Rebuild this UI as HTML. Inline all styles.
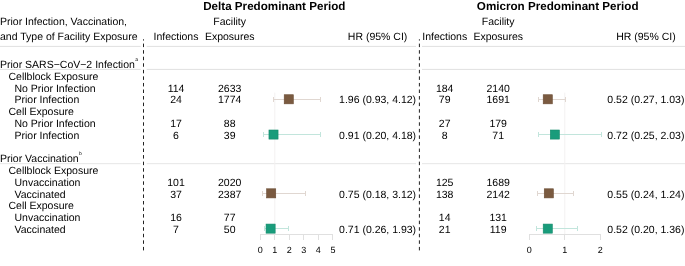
<!DOCTYPE html>
<html><head><meta charset="utf-8"><style>
html,body{margin:0;padding:0;background:#fff;}
svg{display:block;will-change:transform;text-rendering:geometricPrecision;font-family:"Liberation Sans",sans-serif;}
</style></head><body>
<svg width="685" height="266" viewBox="0 0 685 266">
<text x="274.30" y="9.70" text-anchor="middle" font-size="11.65" font-weight="bold" fill="#000">Delta Predominant Period</text>
<text x="557.70" y="9.70" text-anchor="middle" font-size="11.65" font-weight="bold" fill="#000">Omicron Predominant Period</text>
<text x="0.00" y="25.00" text-anchor="start" font-size="10.5" font-weight="normal" fill="#000">Prior Infection, Vaccination,</text>
<text x="0.00" y="40.20" text-anchor="start" font-size="10.5" font-weight="normal" fill="#000">and Type of Facility Exposure</text>
<text x="176.00" y="40.20" text-anchor="middle" font-size="10.5" font-weight="normal" fill="#000">Infections</text>
<text x="229.70" y="25.00" text-anchor="middle" font-size="10.5" font-weight="normal" fill="#000">Facility</text>
<text x="229.70" y="40.20" text-anchor="middle" font-size="10.5" font-weight="normal" fill="#000">Exposures</text>
<text x="377.60" y="40.20" text-anchor="middle" font-size="10.5" font-weight="normal" fill="#000">HR (95% CI)</text>
<text x="444.70" y="40.20" text-anchor="middle" font-size="10.5" font-weight="normal" fill="#000">Infections</text>
<text x="498.20" y="25.00" text-anchor="middle" font-size="10.5" font-weight="normal" fill="#000">Facility</text>
<text x="498.20" y="40.20" text-anchor="middle" font-size="10.5" font-weight="normal" fill="#000">Exposures</text>
<text x="645.90" y="40.20" text-anchor="middle" font-size="10.5" font-weight="normal" fill="#000">HR (95% CI)</text>
<text x="0" y="68.20" font-size="10.5">Prior SARS−CoV−2 Infection<tspan dx="0.5" dy="-7.6" font-size="5">a</tspan></text>
<text x="8.50" y="79.96" text-anchor="start" font-size="10.5" font-weight="normal" fill="#000">Cellblock Exposure</text>
<text x="14.50" y="91.72" text-anchor="start" font-size="10.5" font-weight="normal" fill="#000">No Prior Infection</text>
<text x="14.50" y="103.48" text-anchor="start" font-size="10.5" font-weight="normal" fill="#000">Prior Infection</text>
<text x="8.50" y="115.23" text-anchor="start" font-size="10.5" font-weight="normal" fill="#000">Cell Exposure</text>
<text x="14.50" y="126.99" text-anchor="start" font-size="10.5" font-weight="normal" fill="#000">No Prior Infection</text>
<text x="14.50" y="138.75" text-anchor="start" font-size="10.5" font-weight="normal" fill="#000">Prior Infection</text>
<text x="0" y="162.27" font-size="10.5">Prior Vaccination<tspan dx="0.5" dy="-7.6" font-size="5">b</tspan></text>
<text x="8.50" y="174.03" text-anchor="start" font-size="10.5" font-weight="normal" fill="#000">Cellblock Exposure</text>
<text x="14.50" y="185.79" text-anchor="start" font-size="10.5" font-weight="normal" fill="#000">Unvaccination</text>
<text x="14.50" y="197.54" text-anchor="start" font-size="10.5" font-weight="normal" fill="#000">Vaccinated</text>
<text x="8.50" y="209.30" text-anchor="start" font-size="10.5" font-weight="normal" fill="#000">Cell Exposure</text>
<text x="14.50" y="221.06" text-anchor="start" font-size="10.5" font-weight="normal" fill="#000">Unvaccination</text>
<text x="14.50" y="232.82" text-anchor="start" font-size="10.5" font-weight="normal" fill="#000">Vaccinated</text>
<text x="176.00" y="91.72" text-anchor="middle" font-size="10.5" font-weight="normal" fill="#000">114</text>
<text x="229.70" y="91.72" text-anchor="middle" font-size="10.5" font-weight="normal" fill="#000">2633</text>
<text x="444.70" y="91.72" text-anchor="middle" font-size="10.5" font-weight="normal" fill="#000">184</text>
<text x="498.20" y="91.72" text-anchor="middle" font-size="10.5" font-weight="normal" fill="#000">2140</text>
<text x="176.00" y="103.48" text-anchor="middle" font-size="10.5" font-weight="normal" fill="#000">24</text>
<text x="229.70" y="103.48" text-anchor="middle" font-size="10.5" font-weight="normal" fill="#000">1774</text>
<text x="444.70" y="103.48" text-anchor="middle" font-size="10.5" font-weight="normal" fill="#000">79</text>
<text x="498.20" y="103.48" text-anchor="middle" font-size="10.5" font-weight="normal" fill="#000">1691</text>
<text x="176.00" y="126.99" text-anchor="middle" font-size="10.5" font-weight="normal" fill="#000">17</text>
<text x="229.70" y="126.99" text-anchor="middle" font-size="10.5" font-weight="normal" fill="#000">88</text>
<text x="444.70" y="126.99" text-anchor="middle" font-size="10.5" font-weight="normal" fill="#000">27</text>
<text x="498.20" y="126.99" text-anchor="middle" font-size="10.5" font-weight="normal" fill="#000">179</text>
<text x="176.00" y="138.75" text-anchor="middle" font-size="10.5" font-weight="normal" fill="#000">6</text>
<text x="229.70" y="138.75" text-anchor="middle" font-size="10.5" font-weight="normal" fill="#000">39</text>
<text x="444.70" y="138.75" text-anchor="middle" font-size="10.5" font-weight="normal" fill="#000">8</text>
<text x="498.20" y="138.75" text-anchor="middle" font-size="10.5" font-weight="normal" fill="#000">71</text>
<text x="176.00" y="185.79" text-anchor="middle" font-size="10.5" font-weight="normal" fill="#000">101</text>
<text x="229.70" y="185.79" text-anchor="middle" font-size="10.5" font-weight="normal" fill="#000">2020</text>
<text x="444.70" y="185.79" text-anchor="middle" font-size="10.5" font-weight="normal" fill="#000">125</text>
<text x="498.20" y="185.79" text-anchor="middle" font-size="10.5" font-weight="normal" fill="#000">1689</text>
<text x="176.00" y="197.54" text-anchor="middle" font-size="10.5" font-weight="normal" fill="#000">37</text>
<text x="229.70" y="197.54" text-anchor="middle" font-size="10.5" font-weight="normal" fill="#000">2387</text>
<text x="444.70" y="197.54" text-anchor="middle" font-size="10.5" font-weight="normal" fill="#000">138</text>
<text x="498.20" y="197.54" text-anchor="middle" font-size="10.5" font-weight="normal" fill="#000">2142</text>
<text x="176.00" y="221.06" text-anchor="middle" font-size="10.5" font-weight="normal" fill="#000">16</text>
<text x="229.70" y="221.06" text-anchor="middle" font-size="10.5" font-weight="normal" fill="#000">77</text>
<text x="444.70" y="221.06" text-anchor="middle" font-size="10.5" font-weight="normal" fill="#000">14</text>
<text x="498.20" y="221.06" text-anchor="middle" font-size="10.5" font-weight="normal" fill="#000">131</text>
<text x="176.00" y="232.82" text-anchor="middle" font-size="10.5" font-weight="normal" fill="#000">7</text>
<text x="229.70" y="232.82" text-anchor="middle" font-size="10.5" font-weight="normal" fill="#000">50</text>
<text x="444.70" y="232.82" text-anchor="middle" font-size="10.5" font-weight="normal" fill="#000">21</text>
<text x="498.20" y="232.82" text-anchor="middle" font-size="10.5" font-weight="normal" fill="#000">119</text>
<line x1="0" y1="46.4" x2="140.7" y2="46.4" stroke="#e0e0e0" stroke-width="1"/>
<line x1="146.7" y1="46.4" x2="416" y2="46.4" stroke="#e0e0e0" stroke-width="1"/>
<line x1="422" y1="46.4" x2="685" y2="46.4" stroke="#e0e0e0" stroke-width="1"/>
<line x1="0" y1="69.4" x2="140.7" y2="69.4" stroke="#e0e0e0" stroke-width="1"/>
<line x1="146.7" y1="69.4" x2="416" y2="69.4" stroke="#e0e0e0" stroke-width="1"/>
<line x1="422" y1="69.4" x2="685" y2="69.4" stroke="#e0e0e0" stroke-width="1"/>
<line x1="0" y1="163.7" x2="140.7" y2="163.7" stroke="#e6e6e6" stroke-width="1"/>
<line x1="146.7" y1="163.7" x2="416" y2="163.7" stroke="#e6e6e6" stroke-width="1"/>
<line x1="422" y1="163.7" x2="685" y2="163.7" stroke="#e6e6e6" stroke-width="1"/>
<line x1="274.82" y1="92.6" x2="274.82" y2="234.5" stroke="#f3f1f1" stroke-width="1"/>
<line x1="564.80" y1="92.6" x2="564.80" y2="234.5" stroke="#f3f1f1" stroke-width="1"/>
<line x1="273.50" y1="99.50" x2="320.50" y2="99.50" stroke="#e0d7d1" stroke-width="1"/>
<line x1="273.50" y1="97.00" x2="273.50" y2="102.00" stroke="#e0d7d1" stroke-width="1"/>
<line x1="320.50" y1="97.00" x2="320.50" y2="102.00" stroke="#e0d7d1" stroke-width="1"/>
<rect x="284.21" y="94.73" width="9.1" height="9.1" fill="#7a5a40" stroke="#6a4c34" stroke-width="0.6"/>
<text x="377.60" y="103.48" text-anchor="middle" font-size="10.5" font-weight="normal" fill="#000">1.96 (0.93, 4.12)</text>
<line x1="538.50" y1="99.50" x2="565.50" y2="99.50" stroke="#e0d7d1" stroke-width="1"/>
<line x1="538.50" y1="97.00" x2="538.50" y2="102.00" stroke="#e0d7d1" stroke-width="1"/>
<line x1="565.50" y1="97.00" x2="565.50" y2="102.00" stroke="#e0d7d1" stroke-width="1"/>
<rect x="543.21" y="94.73" width="9.1" height="9.1" fill="#7a5a40" stroke="#6a4c34" stroke-width="0.6"/>
<text x="645.90" y="103.48" text-anchor="middle" font-size="10.5" font-weight="normal" fill="#000">0.52 (0.27, 1.03)</text>
<line x1="263.50" y1="134.50" x2="320.50" y2="134.50" stroke="#c2e5dc" stroke-width="1"/>
<line x1="263.50" y1="132.00" x2="263.50" y2="137.00" stroke="#c2e5dc" stroke-width="1"/>
<line x1="320.50" y1="132.00" x2="320.50" y2="137.00" stroke="#c2e5dc" stroke-width="1"/>
<rect x="268.96" y="130.00" width="9.1" height="9.1" fill="#199c7b" stroke="#148a6b" stroke-width="0.6"/>
<text x="377.60" y="138.75" text-anchor="middle" font-size="10.5" font-weight="normal" fill="#000">0.91 (0.20, 4.18)</text>
<line x1="538.50" y1="134.50" x2="601.50" y2="134.50" stroke="#c2e5dc" stroke-width="1"/>
<line x1="538.50" y1="132.00" x2="538.50" y2="137.00" stroke="#c2e5dc" stroke-width="1"/>
<line x1="601.50" y1="132.00" x2="601.50" y2="137.00" stroke="#c2e5dc" stroke-width="1"/>
<rect x="550.31" y="130.00" width="9.1" height="9.1" fill="#199c7b" stroke="#148a6b" stroke-width="0.6"/>
<text x="645.90" y="138.75" text-anchor="middle" font-size="10.5" font-weight="normal" fill="#000">0.72 (0.25, 2.03)</text>
<line x1="262.50" y1="193.50" x2="305.50" y2="193.50" stroke="#e0d7d1" stroke-width="1"/>
<line x1="262.50" y1="191.00" x2="262.50" y2="196.00" stroke="#e0d7d1" stroke-width="1"/>
<line x1="305.50" y1="191.00" x2="305.50" y2="196.00" stroke="#e0d7d1" stroke-width="1"/>
<rect x="266.64" y="188.79" width="9.1" height="9.1" fill="#7a5a40" stroke="#6a4c34" stroke-width="0.6"/>
<text x="377.60" y="197.54" text-anchor="middle" font-size="10.5" font-weight="normal" fill="#000">0.75 (0.18, 3.12)</text>
<line x1="537.50" y1="193.50" x2="573.50" y2="193.50" stroke="#e0d7d1" stroke-width="1"/>
<line x1="537.50" y1="191.00" x2="537.50" y2="196.00" stroke="#e0d7d1" stroke-width="1"/>
<line x1="573.50" y1="191.00" x2="573.50" y2="196.00" stroke="#e0d7d1" stroke-width="1"/>
<rect x="544.27" y="188.79" width="9.1" height="9.1" fill="#7a5a40" stroke="#6a4c34" stroke-width="0.6"/>
<text x="645.90" y="197.54" text-anchor="middle" font-size="10.5" font-weight="normal" fill="#000">0.55 (0.24, 1.24)</text>
<line x1="264.50" y1="228.50" x2="288.50" y2="228.50" stroke="#c2e5dc" stroke-width="1"/>
<line x1="264.50" y1="226.00" x2="264.50" y2="231.00" stroke="#c2e5dc" stroke-width="1"/>
<line x1="288.50" y1="226.00" x2="288.50" y2="231.00" stroke="#c2e5dc" stroke-width="1"/>
<rect x="266.06" y="224.07" width="9.1" height="9.1" fill="#199c7b" stroke="#148a6b" stroke-width="0.6"/>
<text x="377.60" y="232.82" text-anchor="middle" font-size="10.5" font-weight="normal" fill="#000">0.71 (0.26, 1.93)</text>
<line x1="536.50" y1="228.50" x2="577.50" y2="228.50" stroke="#c2e5dc" stroke-width="1"/>
<line x1="536.50" y1="226.00" x2="536.50" y2="231.00" stroke="#c2e5dc" stroke-width="1"/>
<line x1="577.50" y1="226.00" x2="577.50" y2="231.00" stroke="#c2e5dc" stroke-width="1"/>
<rect x="543.21" y="224.07" width="9.1" height="9.1" fill="#199c7b" stroke="#148a6b" stroke-width="0.6"/>
<text x="645.90" y="232.82" text-anchor="middle" font-size="10.5" font-weight="normal" fill="#000">0.52 (0.20, 1.36)</text>
<line x1="260" y1="234.5" x2="333" y2="234.5" stroke="#e0e0e0" stroke-width="1"/>
<line x1="260.50" y1="235" x2="260.50" y2="240" stroke="#e0e0e0" stroke-width="1"/>
<text x="260.30" y="253.20" text-anchor="middle" font-size="9" font-weight="normal" fill="#000">0</text>
<line x1="274.50" y1="235" x2="274.50" y2="240" stroke="#e0e0e0" stroke-width="1"/>
<text x="274.82" y="253.20" text-anchor="middle" font-size="9" font-weight="normal" fill="#000">1</text>
<line x1="289.50" y1="235" x2="289.50" y2="240" stroke="#e0e0e0" stroke-width="1"/>
<text x="289.34" y="253.20" text-anchor="middle" font-size="9" font-weight="normal" fill="#000">2</text>
<line x1="303.50" y1="235" x2="303.50" y2="240" stroke="#e0e0e0" stroke-width="1"/>
<text x="303.86" y="253.20" text-anchor="middle" font-size="9" font-weight="normal" fill="#000">3</text>
<line x1="318.50" y1="235" x2="318.50" y2="240" stroke="#e0e0e0" stroke-width="1"/>
<text x="318.38" y="253.20" text-anchor="middle" font-size="9" font-weight="normal" fill="#000">4</text>
<line x1="332.50" y1="235" x2="332.50" y2="240" stroke="#e0e0e0" stroke-width="1"/>
<text x="332.90" y="253.20" text-anchor="middle" font-size="9" font-weight="normal" fill="#000">5</text>
<line x1="529" y1="234.5" x2="601" y2="234.5" stroke="#e0e0e0" stroke-width="1"/>
<line x1="529.50" y1="235" x2="529.50" y2="240" stroke="#e0e0e0" stroke-width="1"/>
<text x="529.30" y="253.20" text-anchor="middle" font-size="9" font-weight="normal" fill="#000">0</text>
<line x1="564.50" y1="235" x2="564.50" y2="240" stroke="#e0e0e0" stroke-width="1"/>
<text x="564.80" y="253.20" text-anchor="middle" font-size="9" font-weight="normal" fill="#000">1</text>
<line x1="600.50" y1="235" x2="600.50" y2="240" stroke="#e0e0e0" stroke-width="1"/>
<text x="600.30" y="253.20" text-anchor="middle" font-size="9" font-weight="normal" fill="#000">2</text>
<line x1="143.5" y1="39.3" x2="143.5" y2="250.5" stroke="#222" stroke-width="1" stroke-dasharray="3.5 3.058" stroke-dashoffset="2.258"/>
<line x1="419.4" y1="39.3" x2="419.4" y2="250.5" stroke="#222" stroke-width="1" stroke-dasharray="3.5 3.058" stroke-dashoffset="2.258"/>
</svg>
</body></html>
